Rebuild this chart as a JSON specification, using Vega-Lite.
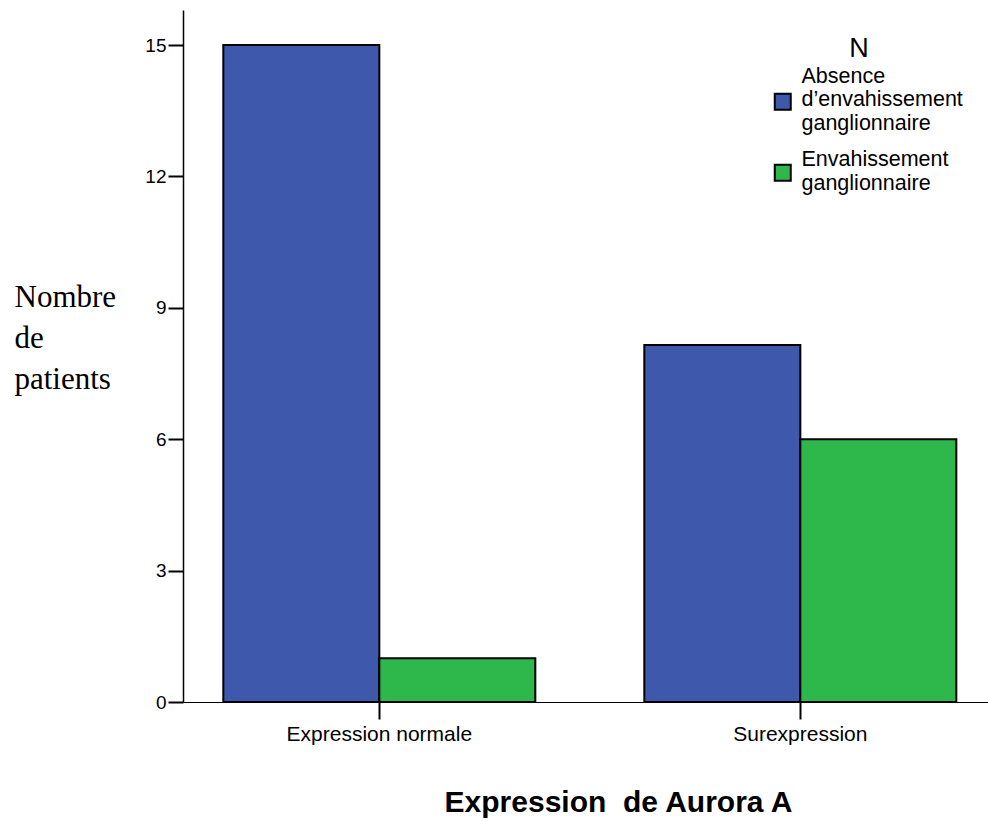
{
  "$schema": "https://vega.github.io/schema/vega-lite/v6.json",
  "width": 805,
  "height": 692,
  "autosize": {"type": "none"},
  "padding": {"left": 183, "top": 10, "right": 0, "bottom": 119},
  "background": "white",
  "config": {
    "view": {"stroke": null},
    "font": "Liberation Sans"
  },
  "data": {
    "values": [
      {"expression": "Expression normale", "groupe": "Absence d’envahissement ganglionnaire", "patients": 15},
      {"expression": "Expression normale", "groupe": "Envahissement ganglionnaire", "patients": 1},
      {"expression": "Surexpression", "groupe": "Absence d’envahissement ganglionnaire", "patients": 8.15},
      {"expression": "Surexpression", "groupe": "Envahissement ganglionnaire", "patients": 6}
    ]
  },
  "mark": {"type": "bar", "stroke": "black", "strokeWidth": 2},
  "encoding": {
    "x": {
      "field": "expression",
      "type": "nominal",
      "scale": {"paddingInner": 0.2589, "paddingOuter": 0.0855, "align": 0.56},
      "axis": {
        "title": "Expression\u00a0 de Aurora A",
        "titleFont": "Liberation Sans",
        "titleFontSize": 30,
        "titleFontWeight": "bold",
        "titleColor": "black",
        "titleX": 435,
        "titleY": 109,
        "titleAlign": "center",
        "titleBaseline": "alphabetic",
        "labelAngle": 0,
        "labelFontSize": 21,
        "labelColor": "black",
        "labelPadding": 4,
        "labelLimit": 300,
        "domainColor": "black",
        "domainWidth": 1,
        "tickColor": "black",
        "tickSize": 17,
        "tickWidth": 2
      }
    },
    "xOffset": {
      "field": "groupe",
      "type": "nominal",
      "scale": {"paddingInner": 0, "paddingOuter": 0}
    },
    "y": {
      "field": "patients",
      "type": "quantitative",
      "scale": {"domain": [0, 15.8], "nice": false},
      "axis": {
        "values": [0, 3, 6, 9, 12, 15],
        "grid": false,
        "title": ["Nombre", "de", "patients"],
        "titleFont": "Liberation Serif",
        "titleFontSize": 31,
        "titleFontWeight": "normal",
        "titleColor": "black",
        "titleAngle": 0,
        "titleAlign": "left",
        "titleBaseline": "alphabetic",
        "titleX": -169,
        "titleY": 296,
        "titleLineHeight": 41,
        "labelFontSize": 19,
        "labelColor": "black",
        "labelPadding": 2,
        "domainColor": "black",
        "domainWidth": 1.5,
        "tickColor": "black",
        "tickSize": 15,
        "tickWidth": 2
      }
    },
    "color": {
      "field": "groupe",
      "type": "nominal",
      "scale": {"range": ["#3E58AB", "#2EB84B"]},
      "legend": {
        "title": "N",
        "orient": "none",
        "legendX": 589,
        "legendY": 26,
        "titleFontSize": 27,
        "titleFontWeight": "normal",
        "titleColor": "black",
        "titleAnchor": "middle",
        "titlePadding": 28,
        "symbolType": "square",
        "symbolSize": 256,
        "symbolStrokeColor": "black",
        "symbolStrokeWidth": 2,
        "symbolOpacity": 1,
        "labelFontSize": 21.5,
        "labelColor": "black",
        "labelOffset": 8,
        "labelLineHeight": 25,
        "labelLimit": 300,
        "rowPadding": 14,
        "labelExpr": "datum.label == 'Envahissement ganglionnaire' ? ['Envahissement', 'ganglionnaire'] : ['Absence', 'd’envahissement', 'ganglionnaire']",
        "encode": {
          "title": {
            "update": {"dx": {"value": -8}}
          },
          "labels": {
            "update": {
              "dy": {"signal": "datum.label == 'Envahissement ganglionnaire' ? -12.5 : -25"}
            }
          }
        }
      }
    }
  }
}
